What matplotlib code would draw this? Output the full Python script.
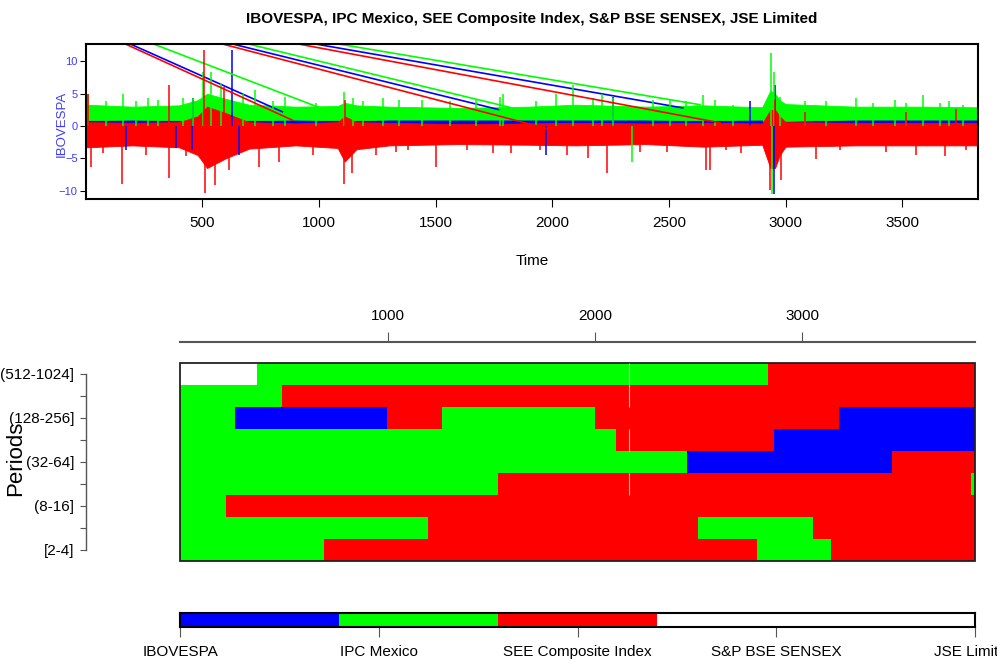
import matplotlib
matplotlib.use("Agg")
import matplotlib.pyplot as plt
import numpy as np
from matplotlib.patches import Rectangle

plt.rcParams["font.family"] = ["Liberation Sans", "DejaVu Sans"]

# ---------------------------------------------------------------------------
# Data
# ---------------------------------------------------------------------------

TITLE = "IBOVESPA, IPC Mexico, SEE Composite Index, S&P BSE SENSEX, JSE Limited"
SERIES_NAMES = ["IBOVESPA", "IPC Mexico", "SEE Composite Index", "S&P BSE SENSEX", "JSE Limited"]
SERIES_COLORS = ["#0000FF", "#00FF00", "#FF0000", "#FFFFFF", "#FFFFFF"]

# rough envelope of the dense noisy returns (time, upper, lower)
BAND_T = [1, 200, 400, 480, 520, 600, 700, 900, 1080, 1110, 1160, 1300, 1600, 1900, 2100, 2400,
          2650, 2900, 2935, 2955, 2975, 3000, 3300, 3600, 3825]
BLUE_HI = [1.4, 1.3, 1.4, 2.0, 3.0, 2.5, 1.4, 1.3, 1.4, 1.8, 1.4, 1.3, 1.2, 1.3, 1.4, 1.3,
           1.4, 1.3, 3.5, 3.5, 2.0, 1.4, 1.3, 1.3, 1.3]
BLUE_LO = [-1.5, -1.4, -1.6, -2.5, -3.5, -3.0, -1.6, -1.4, -1.6, -2.5, -1.6, -1.4, -1.3, -1.4, -1.5, -1.4,
           -1.5, -1.4, -4.0, -4.0, -2.0, -1.6, -1.4, -1.4, -1.4]
GREEN_HI = [3.3, 3.0, 3.2, 4.0, 5.0, 4.2, 3.3, 3.0, 3.1, 3.6, 3.2, 3.0, 2.8, 3.0, 3.3, 3.0,
            3.2, 2.9, 5.5, 5.0, 4.0, 3.4, 3.0, 3.0, 2.9]
GREEN_LO = [0.9, 1.0, 0.9, 0.5, -0.5, 0.5, 0.9, 1.0, 0.9, 0.5, 0.9, 1.0, 1.0, 1.0, 1.0, 1.0,
            0.9, 1.0, -1.0, -1.0, 0.0, 0.8, 1.0, 1.0, 1.0]
RED_HI = [0.6, 0.5, 0.6, 1.5, 3.0, 2.0, 0.6, 0.4, 0.6, 1.5, 0.6, 0.5, 0.3, 0.4, 0.5, 0.4,
          0.5, 0.4, 2.5, 2.5, 1.5, 0.6, 0.5, 0.5, 0.5]
RED_LO = [-3.3, -3.0, -3.3, -4.5, -6.5, -5.0, -3.5, -3.0, -3.4, -5.5, -3.6, -3.0, -2.8, -2.9, -3.0, -2.8,
          -3.2, -2.9, -6.5, -6.5, -4.5, -3.2, -3.0, -3.0, -3.0]

# isolated spikes (time, value)
BLUE_SPIKE_T = [173, 387, 456, 459, 626, 656, 1975, 2261, 2846, 2953, 2950]
BLUE_SPIKE_V = [-3.7, -3.4, -3.7, 4.3, 11.7, -4.5, -4.5, 4.5, 3.9, 6.3, -10.5]
GREEN_SPIKE_T = [9, 88, 159, 216, 266, 309, 416, 459, 502, 535, 580, 673, 727, 801, 855, 987,
                 1109, 1145, 1187, 1273, 1344, 1440, 1561, 1675, 1775, 1790, 1932, 2015, 2090,
                 2175, 2211, 2261, 2342, 2432, 2504, 2575, 2646, 2696, 2775, 2939, 2943, 2949,
                 2975, 3082, 3175, 3303, 3375, 3470, 3517, 3589, 3660, 3700, 3760]
GREEN_SPIKE_V = [5.0, 3.8, 5.0, 3.8, 4.3, 4.0, 4.3, 4.3, 8.4, 8.3, 6.6, 5.0, 5.6, 3.8, 4.5, 3.5,
                 5.3, 4.3, 3.8, 4.3, 4.0, 4.0, 3.8, 4.0, 4.5, 5.0, 3.8, 5.0, 6.4,
                 4.3, 5.0, 4.3, -5.5, 4.0, 4.0, 3.8, 4.8, 4.0, 3.3, 11.3, -10.5, 8.4,
                 4.5, 3.8, 3.8, 4.3, 3.5, 4.0, 3.5, 4.8, 3.5, 3.9, 3.2]
RED_SPIKE_T = [9, 23, 73, 156, 259, 356, 358, 430, 509, 513, 552, 594, 616, 744, 830, 973, 1109,
               1112, 1140, 1244, 1330, 1380, 1501, 1633, 1747, 1825, 1947, 2061, 2154, 2235, 2375,
               2490, 2661, 2678, 2746, 2810, 2935, 2953, 2982, 3082, 3129, 3232, 3432, 3517,
               3560, 3682, 3732, 3774]
RED_SPIKE_V = [5.0, -6.3, -4.2, -8.9, -4.5, 6.3, -8.1, -4.7, 11.7, -10.4, -9.1, 6.1, -6.8, -6.3, -5.5,
               -4.5, -8.9, 4.0, -7.3, -4.5, -4.0, -3.7, -6.3, -3.7, -4.2, -4.2, -3.7, -4.5, -5.0,
               -7.2, -4.0, -4.0, -6.8, -6.8, -3.7, -4.1, -9.9, 4.0, -8.3, 2.2, -5.1, -3.7, -4.0,
               2.2, -4.5, -4.6, 2.7, -3.7]

# long straight strokes joining far-apart points (start time, start value, end time, end value)
BLUE_JUMPS = [(191, 12.7, 843, 2.2), (629, 12.7, 1775, 2.5), (985, 12.7, 2560, 2.8)]
GREEN_JUMPS = [(290, 12.7, 998, 2.9), (697, 12.7, 1817, 2.9), (1084, 12.7, 2633, 3.3)]
RED_JUMPS = [(170, 12.7, 886, 0.9), (586, 12.7, 1989, -0.5), (912, 12.7, 2719, 0.5)]

# dominant-series map per period band, top row first: breakpoints in time and series index
PERIOD_LABELS = ["(512-1024]", "(256-512]", "(128-256]", "(64-128]", "(32-64]",
                 "(16-32]", "(8-16]", "(4-8]", "[2-4]"]
ROW_BREAKS = [
    [0, 371, 2834, 3834],
    [0, 491, 3834],
    [0, 265, 998, 1263, 2000, 3177, 3834],
    [0, 2102, 2864, 3834],
    [0, 2444, 3432, 3834],
    [0, 1533, 3813, 3834],
    [0, 221, 3834],
    [0, 1195, 2497, 3051, 3834],
    [0, 694, 2782, 3139, 3834],
]
ROW_CODES = [
    [3, 1, 2],
    [1, 2],
    [1, 0, 2, 1, 2, 0],
    [1, 2, 0],
    [1, 0, 2],
    [1, 2, 1],
    [1, 2],
    [1, 2, 1, 2],
    [1, 2, 1, 2],
]
GAP_T = 2166
GAP_ROWS = [0, 1, 3, 5]

TS_TICKS = [500, 1000, 1500, 2000, 2500, 3000, 3500]
TS_YTICKS = [-10, -5, 0, 5, 10]
MAP_TICKS = [1000, 2000, 3000]

# ---------------------------------------------------------------------------
# Figure
# ---------------------------------------------------------------------------

W, H = 997, 666
LABEL_SIZE = 11
fig = plt.figure(figsize=(W / 100, H / 100), dpi=100)


def box(x0, y0, x1, y1):
    return [x0 / W, 1 - y1 / H, (x1 - x0) / W, (y1 - y0) / H]


fig.text(532 / W, 1 - 19 / H, TITLE, ha="center", va="center", fontsize=11, fontweight="bold")

# --- time series panel ---
ax = fig.add_axes(box(86, 44, 978, 199))
bands = [
    (BLUE_HI, BLUE_LO, BLUE_SPIKE_T, BLUE_SPIKE_V, BLUE_JUMPS, SERIES_COLORS[0]),
    (GREEN_HI, GREEN_LO, GREEN_SPIKE_T, GREEN_SPIKE_V, GREEN_JUMPS, SERIES_COLORS[1]),
    (RED_HI, RED_LO, RED_SPIKE_T, RED_SPIKE_V, RED_JUMPS, SERIES_COLORS[2]),
]
for hi, lo, st, sv, jumps, col in bands:
    ax.fill_between(BAND_T, lo, hi, color=col, linewidth=0.6, edgecolor=col)
    ax.vlines(st, 0, sv, color=col, linewidth=1.1)
    for t0, v0, t1, v1 in jumps:
        ax.plot([t0, t1], [v0, v1], color=col, linewidth=1.2)

ax.set_xlim(1, 3825)
ax.set_ylim(-11.3, 12.7)
ax.set_xticks(TS_TICKS)
ax.set_yticks(TS_YTICKS)
ax.tick_params(axis="x", length=6, width=0.8, pad=6, labelsize=LABEL_SIZE)
ax.tick_params(axis="y", length=4, width=0.8, pad=2, labelsize=8, labelcolor="#3C3CFF")
for s in ax.spines.values():
    s.set_linewidth(1.5)
fig.text(532 / W, 1 - 261 / H, "Time", ha="center", va="center", fontsize=LABEL_SIZE)
fig.text(62 / W, 1 - 124 / H, "IBOVESPA", rotation=90, ha="center", va="center",
         fontsize=9.5, color="#3C3CFF")

# --- period map panel ---
axm = fig.add_axes(box(180.1, 363, 975.3, 561))
n_rows = len(PERIOD_LABELS)
for i, (breaks, codes) in enumerate(zip(ROW_BREAKS, ROW_CODES)):
    y = n_rows - 1 - i
    b = np.array(breaks, dtype=float)
    axm.barh([y] * len(codes), np.diff(b), left=b[:-1], height=1.0,
             color=[SERIES_COLORS[c] for c in codes], linewidth=0)
for i in GAP_ROWS:
    y = n_rows - 1 - i
    axm.vlines(GAP_T, y - 0.5, y + 0.5, color="white", linewidth=0.8, alpha=0.7)

axm.set_xlim(0, 3834)
axm.set_ylim(-0.5, n_rows - 0.5)
axm.add_patch(Rectangle((0, 0), 1, 1, transform=axm.transAxes, fill=False,
                        edgecolor="#222222", linewidth=1.3, clip_on=False))
axm.spines["right"].set_visible(False)
axm.spines["bottom"].set_visible(False)
axm.spines["top"].set_position(("outward", 15))
axm.spines["top"].set_color("#555555")
axm.spines["top"].set_linewidth(1.5)
axm.spines["left"].set_position(("outward", 94 * 0.72))
axm.spines["left"].set_bounds(0, n_rows - 1)
axm.spines["left"].set_color("#555555")
axm.spines["left"].set_linewidth(1.0)
axm.xaxis.set_ticks_position("top")
axm.set_xticks(MAP_TICKS)
axm.tick_params(axis="x", length=7, width=0.8, color="#555555", pad=7, labelsize=LABEL_SIZE)
axm.set_yticks(range(n_rows))
ylabels = [lab if k % 2 == 0 else "" for k, lab in enumerate(PERIOD_LABELS[::-1])]
axm.set_yticklabels(ylabels)
axm.tick_params(axis="y", length=4.5, width=0.8, color="#555555", pad=4, labelsize=LABEL_SIZE)
fig.text(16 / W, 1 - 458 / H, "Periods", rotation=90, ha="center", va="center", fontsize=16)

# --- colour key ---
axl = fig.add_axes(box(180, 613, 975, 627))
n_series = len(SERIES_NAMES)
axl.barh([0] * n_series, [1 / n_series] * n_series,
         left=np.arange(n_series) / n_series, height=1.0,
         color=SERIES_COLORS, linewidth=0)
axl.set_xlim(0, 1)
axl.set_ylim(-0.5, 0.5)
axl.set_yticks([])
axl.set_xticks(np.linspace(0, 1, n_series))
axl.set_xticklabels(SERIES_NAMES)
axl.tick_params(axis="x", length=7, width=0.8, color="#555555", pad=6, labelsize=LABEL_SIZE)
for s in axl.spines.values():
    s.set_linewidth(1.5)

fig.savefig("out.png", dpi=100)
